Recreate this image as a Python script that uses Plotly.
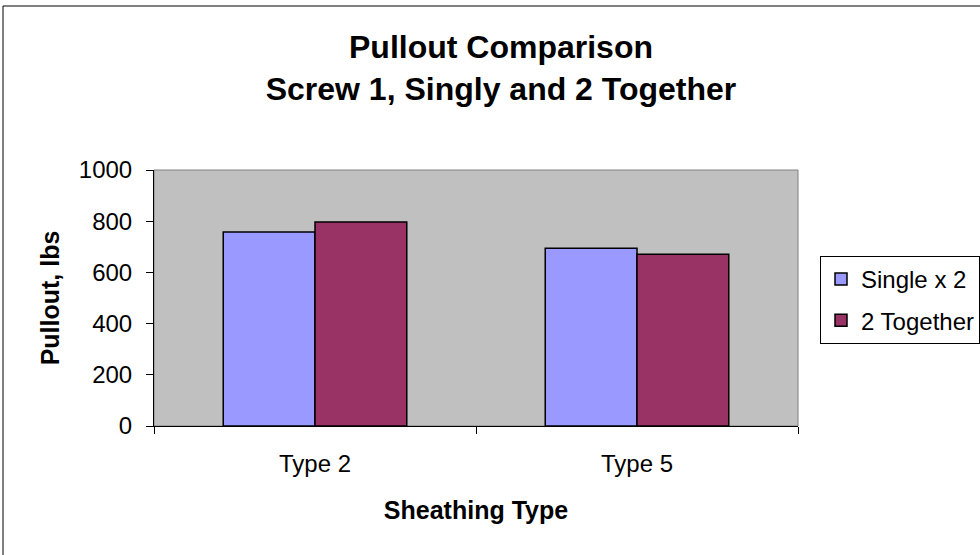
import plotly.graph_objects as go

categories = ["Type 2", "Type 5"]
single_x2 = [758, 694]
two_together = [797, 671]
y_ticks = [0, 200, 400, 600, 800, 1000]

FONT = "Liberation Sans, Arial, sans-serif"

fig = go.Figure()
fig.add_trace(go.Bar(name="Single x 2", x=categories, y=single_x2,
                     marker=dict(color="#9999FF", line=dict(color="black", width=1.5)),
                     legendgroup="a"))
fig.add_trace(go.Bar(name="2 Together", x=categories, y=two_together,
                     marker=dict(color="#993366", line=dict(color="black", width=1.5)),
                     legendgroup="b"))

fig.update_layout(
    width=980, height=555,
    margin=dict(l=154, r=182, t=170, b=129, autoexpand=False),
    paper_bgcolor="white", plot_bgcolor="#C0C0C0",
    barmode="group", bargap=0.43, bargroupgap=0,
    font=dict(family=FONT, size=24, color="black"),
    title=dict(text="<b>Pullout Comparison<br>Screw 1, Singly and 2 Together</b>",
               x=501 / 980, xanchor="center", y=1 - 58 / 555, yanchor="middle",
               font=dict(family=FONT, size=32, color="black")),
    showlegend=True,
    legend=dict(x=(820 - 154) / 644, xanchor="left", y=(426 - 256) / 256, yanchor="top",
                bgcolor="white", bordercolor="black", borderwidth=1,
                font=dict(family=FONT, size=24), tracegroupgap=7,
                itemwidth=30),
    xaxis=dict(showline=True, linecolor="black", linewidth=1,
               ticks="outside", tickson="boundaries", ticklen=7, tickcolor="black",
               ticklabelstandoff=16,
               title=dict(text="<b>Sheathing Type</b>", font=dict(size=25), standoff=25),
               showgrid=False),
    yaxis=dict(range=[0, 1000], tickvals=y_ticks, showline=True, linecolor="black", linewidth=1,
               ticks="outside", ticklen=7, tickcolor="black", showgrid=False,
               ticklabelstandoff=9,
               title=dict(text="<b>Pullout, lbs</b>", font=dict(size=25), standoff=12),
               zeroline=False),
    shapes=[
        dict(type="rect", xref="paper", yref="paper", x0=0, y0=0, x1=1, y1=1,
             line=dict(color="#808080", width=1), layer="below"),
        dict(type="line", xref="paper", yref="paper", x0=(3 - 154) / 644, x1=(3 - 154) / 644,
             y0=(426 - 560) / 256, y1=(426 - 6) / 256, line=dict(color="black", width=1)),
        dict(type="line", xref="paper", yref="paper", x0=(3 - 154) / 644, x1=(990 - 154) / 644,
             y0=(426 - 6) / 256, y1=(426 - 6) / 256, line=dict(color="black", width=1)),
    ],
)

fig.write_html("out.html", config={"displayModeBar": False},
               post_script="document.body.style.margin='0';")
